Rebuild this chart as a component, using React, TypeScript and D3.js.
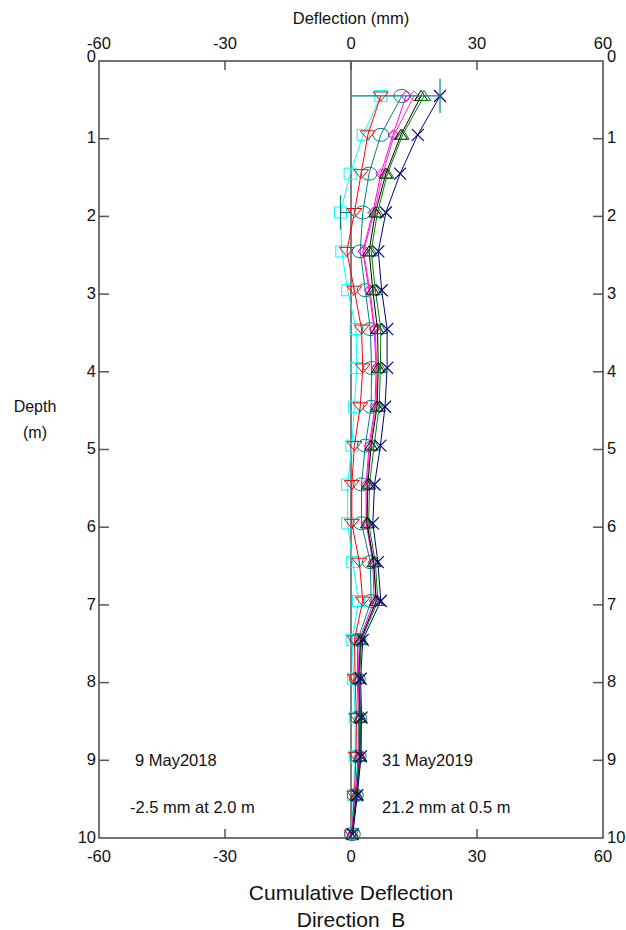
import React from "react";
import * as d3 from "d3";

const depths = [0.45, 0.95, 1.45, 1.95, 2.45, 2.95, 3.45, 3.95, 4.45, 4.95, 5.45, 5.95, 6.45, 6.95, 7.45, 7.95, 8.45, 8.95, 9.45, 9.95];

const cyanVals = [7.1, 2.9, -0.2, -2.5, -2.2, -0.8, 1.2, 1.4, 0.8, 0.2, -0.8, -0.8, 0.4, 1.8, 0.3, 0.6, 1.0, 1.0, 0.6, 0.1];
const redVals = [7.1, 4.0, 2.4, 0.8, -1.0, 0.8, 2.5, 2.8, 2.2, 0.8, 0.2, 0.2, 2.0, 2.8, 0.8, 1.0, 1.3, 1.2, 0.8, 0.2];
const tealVals = [12.1, 7.1, 4.3, 2.8, 2.2, 3.4, 4.6, 4.9, 4.8, 3.4, 2.5, 2.5, 4.6, 4.8, 1.6, 1.5, 1.8, 1.7, 1.0, 0.3];
const magentaVals = [13.1, 10.0, 7.1, 5.2, 2.8, 4.3, 5.5, 6.0, 5.7, 4.3, 3.6, 3.6, 5.2, 5.5, 2.0, 1.7, 2.0, 1.9, 1.1, 0.2];
const pinkVals = [15.0, 10.3, 7.6, 5.5, 3.0, 4.5, 5.7, 6.2, 6.0, 4.5, 3.8, 3.8, 5.4, 6.0, 2.2, 1.8, 2.1, 2.0, 1.2, 0.3];
const blackVals = [16.7, 11.9, 8.3, 5.8, 4.3, 5.2, 6.3, 6.5, 6.2, 4.8, 4.0, 3.8, 5.4, 6.0, 2.3, 1.9, 2.2, 2.1, 1.3, 0.3];
const greenVals = [17.4, 12.3, 8.7, 6.3, 4.8, 5.8, 7.1, 7.0, 6.7, 5.5, 4.4, 4.2, 5.8, 6.4, 2.5, 2.0, 2.3, 2.2, 1.4, 0.4];
const navyVals = [21.2, 15.9, 11.7, 8.3, 6.5, 7.3, 8.6, 8.6, 8.1, 7.0, 5.6, 5.2, 6.4, 7.1, 2.8, 2.3, 2.5, 2.4, 1.5, 0.4];

const seriesList = [
  { name: "s1", values: cyanVals, color: "#00FFFF", marker: "square" },
  { name: "s2", values: redVals, color: "#FF0000", marker: "triDown" },
  { name: "s3", values: tealVals, color: "#008080", marker: "circle" },
  { name: "s4", values: magentaVals, color: "#FF00FF", marker: "diamond" },
  { name: "s5", values: pinkVals, color: "#FF3399", marker: "diamond" },
  { name: "s6", values: blackVals, color: "#000000", marker: "triUp" },
  { name: "s7", values: greenVals, color: "#008000", marker: "triUp" },
  { name: "s8", values: navyVals, color: "#000080", marker: "x" },
];

const xTicks = [-60, -30, 0, 30, 60];
const yTicks = [0, 1, 2, 3, 4, 5, 6, 7, 8, 9, 10];

const minValue = -2.5;
const minDepthIdx = 3;
const maxValue = 21.2;
const maxDepthIdx = 0;

const firstDate = "9 May2018";
const lastDate = "31 May2019";
const minText = "-2.5 mm at 2.0 m";
const maxText = "21.2 mm at 0.5 m";

const FONT = "'Liberation Sans', Arial, sans-serif";

function Marker({ type, x, y, color }: { type: string; x: number; y: number; color: string }) {
  const sw = 1;
  if (type === "square") {
    return <rect x={x - 6} y={y - 5.5} width={12} height={11} fill="none" stroke={color} strokeWidth={sw} />;
  }
  if (type === "triDown") {
    return <path d={`M${x - 7.5},${y - 4} L${x + 7.5},${y - 4} L${x},${y + 5} Z`} fill="none" stroke={color} strokeWidth={sw} />;
  }
  if (type === "triUp") {
    return <path d={`M${x - 6.5},${y + 4.5} L${x + 6.5},${y + 4.5} L${x},${y - 5.5} Z`} fill="none" stroke={color} strokeWidth={sw} />;
  }
  if (type === "circle") {
    return <ellipse cx={x} cy={y} rx={8} ry={6.5} fill="none" stroke={color} strokeWidth={sw} />;
  }
  if (type === "diamond") {
    return <path d={`M${x},${y - 5} L${x + 5},${y} L${x},${y + 5} L${x - 5},${y} Z`} fill="none" stroke={color} strokeWidth={sw} />;
  }
  return (
    <g stroke={color} strokeWidth={1.2}>
      <line x1={x - 6} y1={y - 6} x2={x + 6} y2={y + 6} />
      <line x1={x - 6} y1={y + 6} x2={x + 6} y2={y - 6} />
    </g>
  );
}

export default function App() {
  const left = 99, right = 603, top = 61, bottom = 838;
  const x = d3.scaleLinear().domain([-60, 60]).range([left, right]);
  const y = d3.scaleLinear().domain([0, 10]).range([top, bottom]);
  const line = d3.line<number>().x((v) => x(v)).y((_, i) => y(depths[i]));

  return (
    <svg width={626} height={930} style={{ position: "absolute", left: 0, top: 0, background: "#fff" }} fontFamily={FONT}>
      <rect x={0} y={0} width={626} height={930} fill="#fff" />
      <line x1={x(0)} x2={x(0)} y1={top} y2={bottom} stroke="#808080" strokeWidth={2} />
      {xTicks.filter((t) => t !== -60 && t !== 60).map((t) => (
        <g key={"xt" + t}>
          <line x1={x(t)} x2={x(t)} y1={top} y2={top + 9} stroke="#555" strokeWidth={1.5} />
          <line x1={x(t)} x2={x(t)} y1={bottom} y2={bottom - 9} stroke="#555" strokeWidth={1.5} />
        </g>
      ))}
      {yTicks.filter((t) => t !== 0 && t !== 10).map((t) => (
        <g key={"yt" + t}>
          <line x1={left} x2={left + 10} y1={y(t)} y2={y(t)} stroke="#555" strokeWidth={1.5} />
          <line x1={right} x2={right - 10} y1={y(t)} y2={y(t)} stroke="#555" strokeWidth={1.5} />
        </g>
      ))}
      {seriesList.map((s) => (
        <g key={s.name}>
          <path d={line(s.values) || ""} fill="none" stroke={s.color} strokeWidth={1} />
          {s.values.map((v, i) => (
            <Marker key={i} type={s.marker} x={x(v)} y={y(depths[i])} color={s.color} />
          ))}
        </g>
      ))}
      <line x1={x(0)} x2={x(maxValue)} y1={y(depths[maxDepthIdx])} y2={y(depths[maxDepthIdx])} stroke="#008080" strokeWidth={1.2} />
      <line x1={x(maxValue)} x2={x(maxValue)} y1={y(depths[maxDepthIdx] - 0.22)} y2={y(depths[maxDepthIdx] + 0.22)} stroke="#008080" strokeWidth={1.2} />
      <line x1={x(0)} x2={x(minValue)} y1={y(depths[minDepthIdx])} y2={y(depths[minDepthIdx])} stroke="#008080" strokeWidth={1.2} />
      <line x1={x(minValue)} x2={x(minValue)} y1={y(depths[minDepthIdx] - 0.22)} y2={y(depths[minDepthIdx] + 0.22)} stroke="#008080" strokeWidth={1.2} />
      <rect x={left} y={top} width={right - left} height={bottom - top} fill="none" stroke="#444" strokeWidth={1.5} />
      {xTicks.map((t) => (
        <g key={"xl" + t} fontSize={16.5} fill="#111" textAnchor="middle">
          <text x={x(t)} y={49}>{t}</text>
          <text x={x(t)} y={862}>{t}</text>
        </g>
      ))}
      {yTicks.map((t) => {
        const yy = t === 0 ? y(t) - 5 : y(t) - 1;
        return (
          <g key={"yl" + t} fontSize={16.5} fill="#111">
            <text x={left - 3} y={yy} dy="0.35em" textAnchor="end">{t}</text>
            <text x={right + 4} y={yy} dy="0.35em" textAnchor="start">{t}</text>
          </g>
        );
      })}
      <text x={x(0)} y={24} fontSize={16.5} textAnchor="middle" fill="#111">Deflection (mm)</text>
      <text x={35} y={412} fontSize={16} textAnchor="middle" fill="#111">Depth</text>
      <text x={35} y={438} fontSize={16} textAnchor="middle" fill="#111">(m)</text>
      <text x={x(0)} y={900} fontSize={21} textAnchor="middle" fill="#111">Cumulative Deflection</text>
      <text x={x(0)} y={927} fontSize={21} textAnchor="middle" fill="#111" style={{ whiteSpace: "pre" }}>{"Direction  B"}</text>
      <text x={135} y={766} fontSize={16.5} fill="#111">{firstDate}</text>
      <text x={130} y={813} fontSize={16.5} fill="#111">{minText}</text>
      <text x={382} y={766} fontSize={16.5} fill="#111">{lastDate}</text>
      <text x={382} y={813} fontSize={16.5} fill="#111">{maxText}</text>
    </svg>
  );
}
